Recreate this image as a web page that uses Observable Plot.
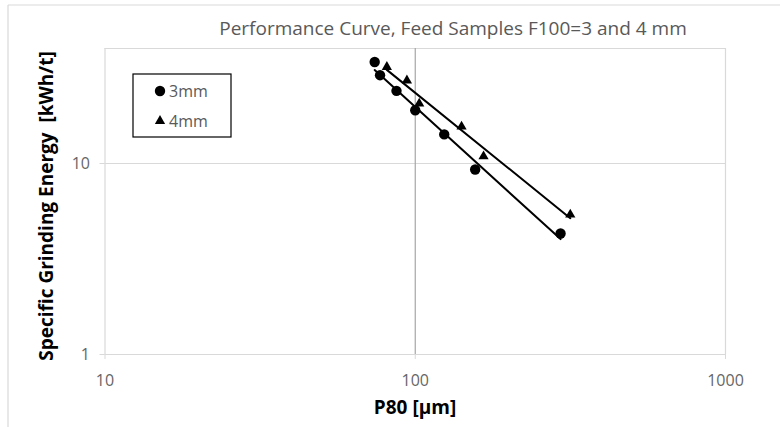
<!DOCTYPE html>
<html>
<head>
<meta charset="utf-8">
<script src="https://cdn.jsdelivr.net/npm/d3@7"></script>
<script src="https://cdn.jsdelivr.net/npm/@observablehq/plot@0.6"></script>
<style>
  html, body { margin: 0; padding: 0; background: #fff; }
  #chart { width: 780px; height: 427px; }
  svg { display: block; }
</style>
</head>
<body>
<div id="chart"></div>
<script>
// ---- data ----
const titleText = "Performance Curve, Feed Samples F100=3 and 4 mm";
const xLabel = "P80 [µm]";
const yLabel = "Specific Grinding Energy  [kWh/t]";
const seriesNames = ["3mm", "4mm"];
const p80_3mm = [74, 77, 87, 100, 124, 156, 294];
const energy_3mm = [34, 29, 24, 19, 14.2, 9.3, 4.3];
const p80_4mm = [81, 94, 103, 141, 166, 316];
const energy_4mm = [32, 27.2, 20.6, 15.6, 10.9, 5.4];
const xTicks = [10, 100, 1000];
const yTicks = [1, 10];

const pts3 = p80_3mm.map((x, i) => ({x, y: energy_3mm[i]}));
const pts4 = p80_4mm.map((x, i) => ({x, y: energy_4mm[i]}));

// power-law trendline (least squares in log-log space), spanning the data range
function powerFit(pts) {
  const lx = pts.map(d => Math.log(d.x)), ly = pts.map(d => Math.log(d.y));
  const mx = d3.mean(lx), my = d3.mean(ly);
  const b = d3.sum(lx.map((v, i) => (v - mx) * (ly[i] - my))) / d3.sum(lx.map(v => (v - mx) ** 2));
  const a = my - b * mx;
  const [x0, x1] = d3.extent(pts, d => d.x);
  return [x0, x1].map(x => ({x, y: Math.exp(a + b * Math.log(x))}));
}
const fit3 = powerFit(pts3);
const fit4 = powerFit(pts4);

const FONT = "'Open Sans', sans-serif";

const plot = Plot.plot({
  width: 780,
  height: 427,
  marginTop: 48,
  marginLeft: 104.5,
  marginRight: 55,
  marginBottom: 73,
  style: {fontFamily: FONT, background: "#fff", overflow: "visible"},
  x: {type: "log", domain: [10, 1000]},
  y: {type: "log", domain: [1, 40]},
  marks: [
    Plot.ruleY([10, 40], {stroke: "#d9d9d9", strokeWidth: 1.2}),
    Plot.ruleX([1000], {stroke: "#d9d9d9", strokeWidth: 1.2}),
    Plot.ruleX([100], {stroke: "#a6a6a6", strokeWidth: 1.2}),
    Plot.ruleY([1], {stroke: "#d9d9d9", strokeWidth: 1.2}),
    Plot.ruleX([10], {stroke: "#d9d9d9", strokeWidth: 1.2}),
    Plot.axisX({ticks: xTicks, tickSize: 5, tickPadding: 15, tickFormat: d => String(d),
      label: null, stroke: "#d9d9d9", fill: "#666", fontSize: 16}),
    Plot.axisY({ticks: yTicks, tickSize: 5, tickPadding: 10, tickFormat: d => String(d),
      label: null, stroke: "#d9d9d9", fill: "#666", fontSize: 16}),
    Plot.line(fit3, {x: "x", y: "y", stroke: "#000", strokeWidth: 2}),
    Plot.line(fit4, {x: "x", y: "y", stroke: "#000", strokeWidth: 2}),
    Plot.dot(pts3, {x: "x", y: "y", r: 5.2, fill: "#000", stroke: "none", symbol: "circle"}),
    Plot.dot(pts4, {x: "x", y: "y", r: 3.8, fill: "#000", stroke: "none", symbol: "triangle"})
  ]
});

document.getElementById("chart").appendChild(plot);
const svg = d3.select(plot);

// outer chart border (top & left visible)
svg.append("line").attr("x1", 8).attr("x2", 780).attr("y1", 5).attr("y2", 5).attr("stroke", "#d9d9d9").attr("stroke-width", 1.2);
svg.append("line").attr("x1", 8).attr("x2", 8).attr("y1", 5).attr("y2", 427).attr("stroke", "#d9d9d9").attr("stroke-width", 1.2);

// title
svg.append("text").attr("x", 453).attr("y", 35).attr("text-anchor", "middle")
  .attr("font-family", FONT).attr("font-size", 19).attr("fill", "#595959").text(titleText);

// axis titles
svg.append("text").attr("x", 415).attr("y", 414).attr("text-anchor", "middle")
  .attr("font-family", FONT).attr("font-size", 19).attr("font-weight", "bold").attr("fill", "#000").text(xLabel);
svg.append("text").attr("transform", "translate(53,206) rotate(-90)").attr("text-anchor", "middle")
  .attr("font-family", FONT).attr("font-size", 19).attr("font-weight", "bold").attr("fill", "#000")
  .attr("xml:space", "preserve").style("white-space", "pre").text(yLabel);

// legend
const lg = svg.append("g");
lg.append("rect").attr("x", 133).attr("y", 74).attr("width", 98).attr("height", 63)
  .attr("fill", "#fff").attr("stroke", "#000").attr("stroke-width", 1.2);
lg.append("path").attr("transform", "translate(160,91)").attr("d", d3.symbol(d3.symbolCircle, Math.PI * 5.2 * 5.2)()).attr("fill", "#000");
lg.append("path").attr("transform", "translate(160,121)").attr("d", d3.symbol(d3.symbolTriangle, Math.PI * 3.8 * 3.8)()).attr("fill", "#000");
lg.append("text").attr("x", 169).attr("y", 97).attr("text-anchor", "start").attr("font-family", FONT).attr("font-size", 16).attr("fill", "#595959").text(seriesNames[0]);
lg.append("text").attr("x", 169).attr("y", 127).attr("text-anchor", "start").attr("font-family", FONT).attr("font-size", 16).attr("fill", "#595959").text(seriesNames[1]);
</script>
</body>
</html>
